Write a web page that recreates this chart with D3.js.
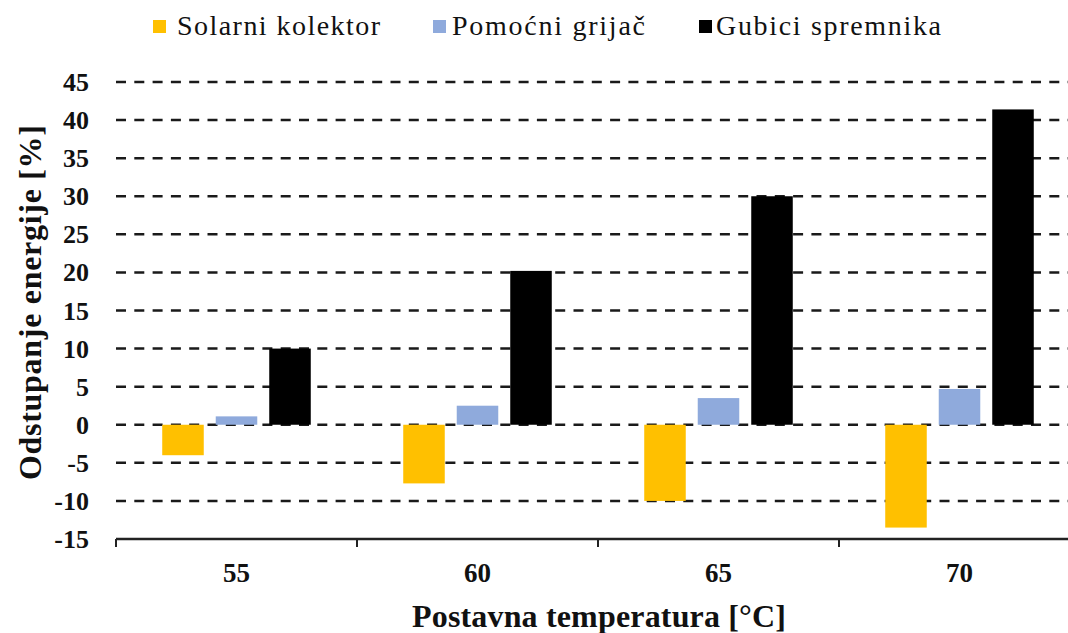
<!DOCTYPE html>
<html>
<head>
<meta charset="utf-8">
<script src="https://cdn.jsdelivr.net/npm/d3@7"></script>
<style>
  html, body { margin: 0; padding: 0; background: #fff; overflow: hidden; }
  svg { display: block; }
  text { font-family: "Liberation Serif", "Times New Roman", serif; fill: #111; }
</style>
</head>
<body>
<svg id="chart" width="1068" height="633"></svg>
<script>
// Set-point temperatures on the category axis
const categories = ["55", "60", "65", "70"];
// Series names shown in the legend
const seriesNames = ["Solarni kolektor", "Pomoćni grijač", "Gubici spremnika"];
// Energy deviation [%] per series, one value per temperature
const solarValues = [-4.0, -7.7, -10.0, -13.5];
const heaterValues = [1.1, 2.5, 3.5, 4.7];
const tankLossValues = [10.0, 20.2, 30.0, 41.4];
// Y tick values
const yTicks = [-15, -10, -5, 0, 5, 10, 15, 20, 25, 30, 35, 40, 45];

const seriesValues = [solarValues, heaterValues, tankLossValues];
const colors = ["#FFC000", "#8FAADC", "#000000"];

const svg = d3.select("#chart");

// The plot area runs past the right edge of the page
const plotLeft = 116, plotRight = 1080, plotTop = 82, plotBottom = 539;

const x = d3.scaleBand().domain(categories).range([plotLeft, plotRight]).paddingInner(0).paddingOuter(0);
const xInner = d3.scaleBand().domain(d3.range(seriesNames.length))
  .range([0, x.bandwidth()]).paddingInner(0.224).paddingOuter(0.864);
const y = d3.scaleLinear().domain([-15, 45]).range([plotBottom, plotTop]);

// Dashed horizontal gridlines
svg.append("g").selectAll("line")
  .data(yTicks.filter(d => d > -15))
  .join("line")
  .attr("x1", plotLeft).attr("x2", 1068)
  .attr("y1", d => y(d)).attr("y2", d => y(d))
  .attr("stroke", "#1a1a1a")
  .attr("stroke-width", 2.5)
  .attr("stroke-dasharray", "10,8.3");

// Bars
const rows = [];
categories.forEach((c, i) => {
  seriesValues.forEach((vals, s) => rows.push({ cat: c, s, v: vals[i] }));
});
svg.append("g").selectAll("rect")
  .data(rows)
  .join("rect")
  .attr("x", d => x(d.cat) + xInner(d.s))
  .attr("width", xInner.bandwidth())
  .attr("y", d => y(Math.max(0, d.v)))
  .attr("height", d => Math.abs(y(d.v) - y(0)))
  .attr("fill", d => colors[d.s]);

// Category axis along the bottom
const xAxisG = svg.append("g").attr("transform", `translate(0,${plotBottom})`);
xAxisG.append("line")
  .attr("x1", plotLeft).attr("x2", plotRight)
  .attr("stroke", "#222").attr("stroke-width", 2.5);
const boundaries = categories.map(c => x(c)).concat([plotRight]);
xAxisG.selectAll("line.tick").data(boundaries).join("line")
  .attr("class", "tick")
  .attr("x1", d => d).attr("x2", d => d)
  .attr("y1", 0).attr("y2", 8)
  .attr("stroke", "#222").attr("stroke-width", 2);
xAxisG.selectAll("text").data(categories).join("text")
  .attr("x", d => x(d) + x.bandwidth() / 2)
  .attr("y", 43)
  .attr("text-anchor", "middle")
  .attr("font-weight", "bold")
  .attr("font-size", 27)
  .text(d => d);

// Y tick labels
svg.append("g").selectAll("text").data(yTicks).join("text")
  .attr("x", 89)
  .attr("y", d => y(d) + 9)
  .attr("text-anchor", "end")
  .attr("font-weight", "bold")
  .attr("font-size", 26)
  .text(d => d);

// Axis titles
svg.append("text")
  .attr("transform", `translate(41,${(plotTop + plotBottom) / 2 - 8}) rotate(-90)`)
  .attr("text-anchor", "middle")
  .attr("font-weight", "bold")
  .attr("font-size", 32)
  .attr("textLength", 355)
  .text("Odstupanje energije [%]");

svg.append("text")
  .attr("x", 599)
  .attr("y", 627)
  .attr("text-anchor", "middle")
  .attr("font-weight", "bold")
  .attr("font-size", 32)
  .attr("textLength", 374)
  .text("Postavna temperatura [°C]");

// Legend
const legendSwatchX = [153, 433, 699];
const legendTextX = [177, 452, 716];
const legendTextW = [203, 193, 225];
const legend = svg.append("g").selectAll("g").data(seriesNames).join("g");
legend.append("rect")
  .attr("x", (d, i) => legendSwatchX[i]).attr("y", 20).attr("width", 13).attr("height", 13)
  .attr("fill", (d, i) => colors[i]);
legend.append("text")
  .attr("x", (d, i) => legendTextX[i]).attr("y", 35)
  .attr("font-size", 28)
  .attr("textLength", (d, i) => legendTextW[i])
  .text(d => d);
</script>
</body>
</html>
